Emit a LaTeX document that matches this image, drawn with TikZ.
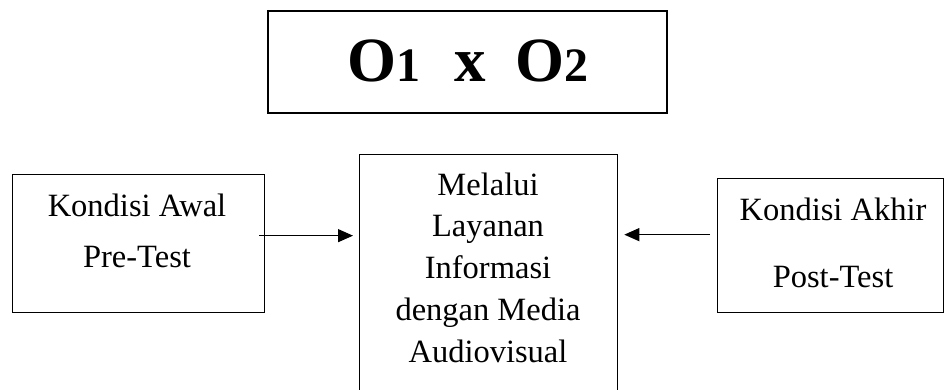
\documentclass[tikz,border=0pt]{standalone}
\usepackage{fontspec}
\setmainfont{Liberation Serif}
\usetikzlibrary{arrows.meta,calc}
\begin{document}
\begin{tikzpicture}[x=1pt,y=-1pt,
  box/.style={draw, line width=1.3pt, inner sep=0pt, anchor=north west},
  lbl/.style={font=\fontsize{32.5}{38}\selectfont, inner sep=0pt, anchor=base},
  arr/.style={line width=1.3pt, -{Triangle[length=15pt,width=13pt]}}]
\clip (0,0) rectangle (944,389);
% top box
\node[box, line width=1.8pt, minimum width=399pt, minimum height=102pt] (top) at (267,10) {};
\node[inner sep=0pt, anchor=base, font=\bfseries\fontsize{63}{70}\selectfont] (formula) at (468,81)
  {O{\fontsize{48}{50}\selectfont 1}\hspace{34pt}x\hspace{30pt}O{\fontsize{48}{50}\selectfont 2}};
% boxes
\node[box, minimum width=252pt, minimum height=138pt] (left) at (12,174) {};
\node[box, minimum width=258pt, minimum height=300pt] (mid) at (359,154) {};
\node[box, minimum width=226pt, minimum height=134pt] (right) at (717,178) {};
% texts
\node[lbl] (l1) at (137,216) {Kondisi Awal};
\node[lbl] (l2) at (137,267) {Pre-Test};
\node[lbl] (r1) at (833,220) {Kondisi Akhir};
\node[lbl] (r2) at (833,287) {Post-Test};
\foreach \t [count=\i] in {Melalui,Layanan,Informasi,dengan Media,Audiovisual}
  \node[lbl] (m\i) at (488,{195+41.8*(\i-1)}) {\t};
% arrows
\draw[arr] ($(left.east)+(-6,-8)$) -- ($(mid.west |- left.east)+(-6,-8)$);
\draw[arr] ($(right.west)+(-7,-11)$) -- ($(mid.east |- right.west)+(6,-11)$);
\end{tikzpicture}
\end{document}
